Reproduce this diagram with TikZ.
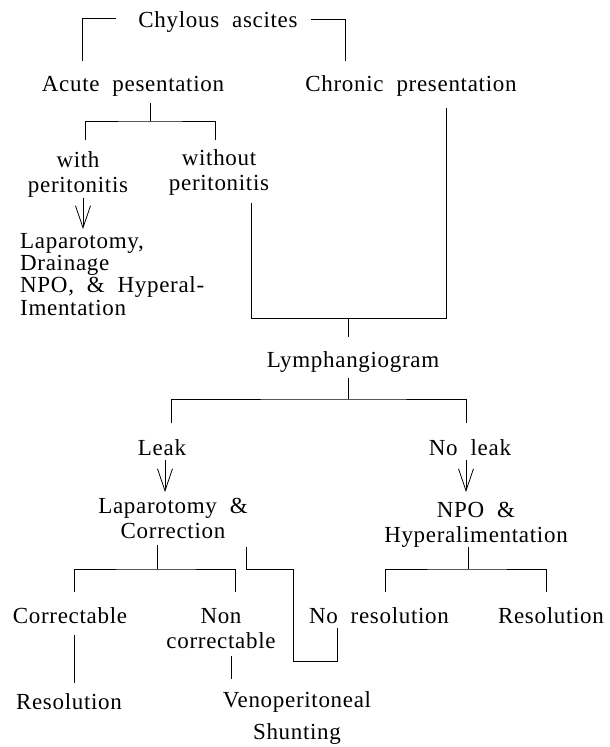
\documentclass[tikz,border=0pt]{standalone}
\usepackage{fontspec}
\setmainfont{Liberation Serif}[LetterSpace=3,WordSpace=2]
\usetikzlibrary{arrows.meta}
\tikzset{
  txt/.style={inner sep=0pt, anchor=base, font=\fontsize{23}{25}\selectfont},
  link/.style={line width=0.8pt, black},
  arr/.style={line width=0.8pt, -{Straight Barb[length=22pt,width=15pt,line width=0.8pt]}}
}
\setlength{\tabcolsep}{0pt}
\begin{document}
\begin{tikzpicture}[x=1pt,y=-1pt]
\useasboundingbox[fill=white] (0,0) rectangle (610,747);
% text nodes
\node[txt] (chyl) at (218,27) {Chylous ascites};
\node[txt] (acute) at (133,91) {Acute pesentation};
\node[txt] (chronic) at (411,91) {Chronic presentation};
\node[txt] (with) at (78,167) {\begin{tabular}[t]{c}with\\peritonitis\end{tabular}};
\node[txt] (without) at (219,165) {\begin{tabular}[t]{c}without\\peritonitis\end{tabular}};
\node[txt,anchor=base west,font=\fontsize{23}{22.3}\selectfont] (lap) at (20,248) {\begin{tabular}[t]{l}Laparotomy,\\Drainage\\NPO, \& Hyperal-\\Imentation\end{tabular}};
\node[txt] (lymph) at (353,367) {Lymphangiogram};
\node[txt] (leak) at (162,455) {Leak};
\node[txt] (noleak) at (470,455) {No leak};
\node[txt] (lapcor) at (173,513) {\begin{tabular}[t]{c}Laparotomy \&\\Correction\end{tabular}};
\node[txt] (npo) at (476,517) {\begin{tabular}[t]{c}NPO \&\\Hyperalimentation\end{tabular}};
\node[txt] (correct) at (70,623) {Correctable};
\node[txt] (noncor) at (221,623) {\begin{tabular}[t]{c}Non\\correctable\end{tabular}};
\node[txt] (nores) at (379,623) {No resolution};
\node[txt] (res2) at (551,623) {Resolution};
\node[txt] (res1) at (69,709) {Resolution};
\node[txt] (veno) at (297,707) {\begin{tabular}[t]{c}Venoperitoneal\\[7pt]Shunting\end{tabular}};
% connector coordinates
\coordinate (b1) at (82,61); \coordinate (b2) at (82,18); \coordinate (b3) at (116,18);
\coordinate (b4) at (311,19); \coordinate (b5) at (345,19); \coordinate (b6) at (345,61);
\coordinate (a0) at (150,103); \coordinate (a1) at (150,121);
\coordinate (a2) at (85,140); \coordinate (a3) at (215,140);
\coordinate (c0) at (446,108); \coordinate (w0) at (251,203); \coordinate (m1) at (348,318); \coordinate (m2) at (348,337);
\coordinate (p0) at (83,198); \coordinate (p1) at (83,229);
\coordinate (l0) at (348,378); \coordinate (l1) at (348,399);
\coordinate (l2) at (171,423); \coordinate (l3) at (466,423);
\coordinate (k0) at (165,460); \coordinate (k1) at (165,492);
\coordinate (n0) at (466,460); \coordinate (n1) at (466,492);
\coordinate (f0) at (157,545); \coordinate (f1) at (157,569);
\coordinate (f2) at (74,592); \coordinate (f3) at (235,592);
\coordinate (s0) at (246,547); \coordinate (s1) at (293,569); \coordinate (s2) at (337,661); \coordinate (s3) at (337,628);
\coordinate (h0) at (468,547); \coordinate (h1) at (468,569);
\coordinate (h2) at (385,592); \coordinate (h3) at (546,592);
\coordinate (r0) at (74,635); \coordinate (r1) at (74,683);
\coordinate (v0) at (231,656); \coordinate (v1) at (231,679);
% connectors
\draw[link] (b1) -- (b2) -- (b3);
\draw[link] (b4) -- (b5) -- (b6);
\draw[link] (a0) -- (a1);
\draw[link] (a2) |- (a1) -| (a3);
\draw[link] (c0) |- (m1);
\draw[link] (w0) |- (m1) -- (m2);
\draw[arr] (p0) -- (p1);
\draw[link] (l0) -- (l1);
\draw[link] (l2) |- (l1) -| (l3);
\draw[arr] (k0) -- (k1);
\draw[arr] (n0) -- (n1);
\draw[link] (f0) -- (f1);
\draw[link] (f2) |- (f1) -| (f3);
\draw[link] (s0) |- (s1) |- (s2) -- (s3);
\draw[link] (h0) -- (h1);
\draw[link] (h2) |- (h1) -| (h3);
\draw[link] (r0) -- (r1);
\draw[link] (v0) -- (v1);
\end{tikzpicture}
\end{document}
